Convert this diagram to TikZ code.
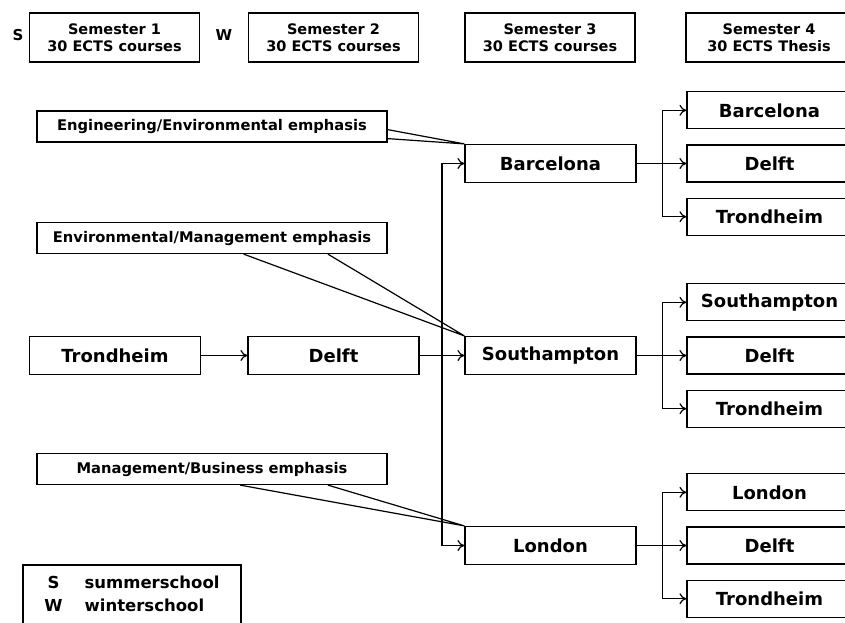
\documentclass[tikz,border=0pt]{standalone}
\usepackage{fontspec}
\setmainfont{DejaVu Sans}
\usepackage{tikz}
\usetikzlibrary{positioning, calc, arrows.meta}

\begin{document}
\begin{tikzpicture}[x=1pt, y=-1pt, line width=1.2pt, >={To[length=7pt, width=11pt]},
    every node/.style={font=\bfseries},
    city/.style={draw, rectangle, fill=white, minimum width=171pt, minimum height=38pt, inner sep=0pt, font=\bfseries\fontsize{18}{21}\selectfont},
    thesis/.style={city, minimum width=165pt, minimum height=37pt},
    semester/.style={draw, rectangle, minimum width=170pt, minimum height=49pt, inner sep=0pt, align=center, font=\bfseries\fontsize{14.5}{17.5}\selectfont},
    emphasis/.style={draw, rectangle, fill=white, minimum width=350pt, minimum height=31pt, inner sep=0pt, font=\bfseries\fontsize{14.7}{17}\selectfont},
    letter/.style={font=\bfseries\fontsize{15}{15}\selectfont, inner sep=0pt}]
      \useasboundingbox (0, 0) rectangle (845, 622);

      % Semester headers
      \node[letter] (s) at (18, 35) {S};
      \node[semester] (sem1) at (114.5, 37.5) {Semester 1\\30 ECTS courses};
      \node[letter] (w) at (224, 35) {W};
      \node[semester] (sem2) at (333.5, 37.5) {Semester 2\\30 ECTS courses};
      \node[semester] (sem3) at (550, 37.5) {Semester 3\\30 ECTS courses};
      \node[semester, minimum width=166pt] (sem4) at (769, 37.5) {Semester 4\\30 ECTS Thesis};

      % Semester 1 and 2
      \node[city] (trond) at (115, 355.5) {Trondheim};
      \node[city] (delft) at (333.5, 355.5) {Delft};

      % Semester 3
      \node[city] (barc) at (550.5, 163.5) {Barcelona};
      \node[city] (south) at (550.5, 355.5) {Southampton};
      \node[city] (lond) at (550.5, 545.5) {London};

      % Semester 4 (thesis)
      \node[thesis] (barcD) at (769.5, 163.5) {Delft};
      \node[thesis, above=15pt of barcD] (barcB) {Barcelona};
      \node[thesis, below=15pt of barcD] (barcT) {Trondheim};

      \node[thesis] (southD) at (769.5, 355.5) {Delft};
      \node[thesis, above=15pt of southD] (southS) {Southampton};
      \node[thesis, below=15pt of southD] (southT) {Trondheim};

      \node[thesis] (londD) at (769.5, 545.5) {Delft};
      \node[thesis, above=15pt of londD] (londL) {London};
      \node[thesis, below=15pt of londD] (londT) {Trondheim};

      % Emphasis boxes
      \node[emphasis] (eng) at (212, 126.5) {Engineering/Environmental emphasis};
      \node[emphasis] (envm) at (212, 238) {Environmental/Management emphasis};
      \node[emphasis] (mgmt) at (212, 469) {Management/Business emphasis};

      % Legend
      \node[draw, rectangle, minimum width=218pt, minimum height=61pt, inner sep=0pt, font=\bfseries\fontsize{16.5}{23}\selectfont] (legend) at (132, 595.5) {\begin{tabular}{@{}c@{\hspace{22pt}}l@{}}S & summerschool\\W & winterschool\end{tabular}};

      % Arrows
      \draw[->] (trond) -- (delft);
      \draw[->] (delft) -- (south);
      \coordinate (fork) at ($(delft.east)!0.5!(south.west)$);
      \draw[->] (fork) |- (barc);
      \draw[->] (fork) |- (lond);

      \coordinate (barcFork) at ($(barc.east)+(26, 0)$);
      \draw[->] (barc) -- (barcD);
      \draw[->] (barcFork) |- (barcB);
      \draw[->] (barcFork) |- (barcT);

      \coordinate (southFork) at ($(south.east)+(26, 0)$);
      \draw[->] (south) -- (southD);
      \draw[->] (southFork) |- (southS);
      \draw[->] (southFork) |- (southT);

      \coordinate (londFork) at ($(lond.east)+(26, 0)$);
      \draw[->] (lond) -- (londD);
      \draw[->] (londFork) |- (londL);
      \draw[->] (londFork) |- (londT);

      % Callout pointers
      \draw ($(eng.south east)+(0, -13)$) -- (barc.north west) -- ($(eng.south east)+(0, -4)$);
      \draw ($(envm.south west)!0.59!(envm.south east)$) -- (south.north west) -- ($(envm.south west)!0.83!(envm.south east)$);
      \draw ($(mgmt.south west)!0.58!(mgmt.south east)$) -- (lond.north west) -- ($(mgmt.south west)!0.83!(mgmt.south east)$);
    \end{tikzpicture}
\end{document}
